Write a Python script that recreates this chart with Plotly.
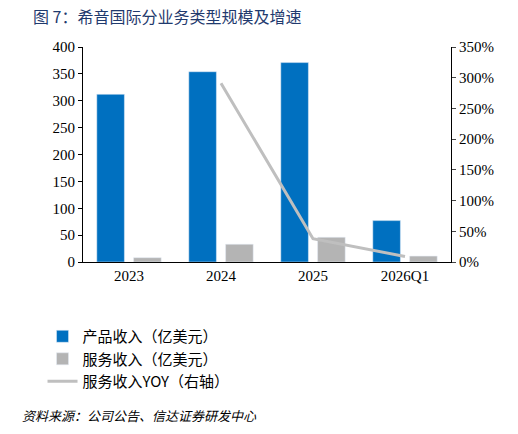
import plotly.graph_objects as go

categories = ["2023", "2024", "2025", "2026Q1"]
product_rev = [312, 354, 371, 77]
service_rev = [8, 33, 46, 11]
service_yoy = [None, 291, 38, 9]  # percent

serif = "Liberation Serif, Noto Sans CJK SC"
fig = go.Figure()
fig.add_bar(x=categories, y=product_rev, name="产品收入（亿美元）", marker_color="#0070C0",
            offsetgroup="a", width=0.3, offset=-0.35)
fig.add_bar(x=categories, y=service_rev, name="服务收入（亿美元）", marker_color="#B4B4B4",
            offsetgroup="b", width=0.3, offset=0.05)
fig.add_scatter(x=categories, y=service_yoy, name="服务收入YOY（右轴）", yaxis="y2",
                mode="lines", line=dict(color="#BFBFBF", width=3), connectgaps=False)

fig.update_layout(
    width=518, height=434, plot_bgcolor="white", paper_bgcolor="white",
    margin=dict(l=75, r=75, t=39, b=180, autoexpand=False),
    font=dict(family=serif, size=15, color="black"),
    barmode="group", bargap=0.4,
    xaxis=dict(showline=True, linecolor="black", ticks="", tickfont=dict(size=15)),
    yaxis=dict(range=[0, 400], dtick=50, showgrid=False, showline=True, linecolor="black",
               ticks="outside", ticklen=4, tickcolor="black"),
    yaxis2=dict(range=[0, 350], dtick=50, overlaying="y", side="right", showgrid=False,
                showline=True, linecolor="black", ticks="outside", ticklen=4, ticksuffix="%"),
    legend=dict(orientation="h", x=-0.11, y=-0.27, xanchor="left", yanchor="top",
                entrywidth=235, font=dict(size=15, family="Noto Sans CJK SC"),
                traceorder="normal", tracegroupgap=20),
    showlegend=True,
)
fig.add_annotation(text="图 7：希音国际分业务类型规模及增速", xref="paper", yref="paper",
                   x=-0.14, y=1.08, xanchor="left", yanchor="bottom", showarrow=False,
                   font=dict(size=16, color="#1F3A6E", family="Noto Sans CJK SC"))
fig.add_annotation(text="<i>资料来源：公司公告、信达证券研发中心</i>", xref="paper", yref="paper",
                   x=-0.17, y=-0.66, xanchor="left", yanchor="top", showarrow=False,
                   font=dict(size=13, color="black", family="Noto Sans CJK SC"))
fig.write_html("out.html")
